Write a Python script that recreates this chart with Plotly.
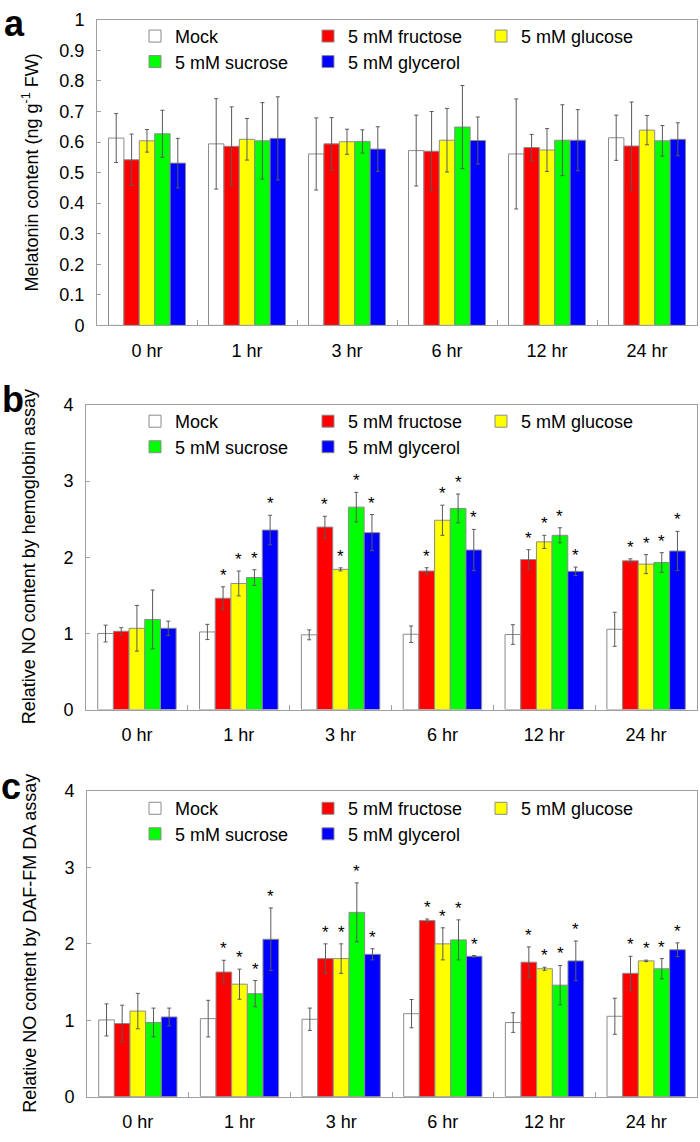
import plotly.graph_objects as go

times = ["0 hr", "1 hr", "3 hr", "6 hr", "12 hr", "24 hr"]
series = ["Mock", "5 mM fructose", "5 mM glucose", "5 mM sucrose", "5 mM glycerol"]
colors = ["#ffffff", "#ff0000", "#ffff00", "#00ff00", "#0000ff"]

# Panel a: melatonin content (ng g-1 FW)
a_mock = [0.613, 0.594, 0.561, 0.572, 0.561, 0.614]
a_fru = [0.542, 0.586, 0.594, 0.570, 0.582, 0.587]
a_glu = [0.604, 0.609, 0.601, 0.606, 0.574, 0.639]
a_suc = [0.627, 0.604, 0.602, 0.649, 0.606, 0.604]
a_gly = [0.531, 0.612, 0.577, 0.605, 0.606, 0.609]
a_mock_err = [0.080, 0.148, 0.118, 0.116, 0.180, 0.074]
a_fru_err = [0.084, 0.129, 0.086, 0.130, 0.043, 0.144]
a_glu_err = [0.037, 0.068, 0.041, 0.104, 0.070, 0.048]
a_suc_err = [0.077, 0.125, 0.038, 0.136, 0.116, 0.050]
a_gly_err = [0.081, 0.136, 0.073, 0.077, 0.100, 0.054]

# Panel b: relative NO content by hemoglobin assay
b_mock = [0.998, 1.019, 0.981, 0.989, 0.985, 1.054]
b_fru = [1.028, 1.462, 2.396, 1.819, 1.970, 1.953]
b_glu = [1.067, 1.656, 1.841, 2.486, 2.202, 1.910]
b_suc = [1.183, 1.733, 2.658, 2.641, 2.288, 1.931]
b_gly = [1.067, 2.357, 2.323, 2.095, 1.815, 2.082]
b_mock_err = [0.110, 0.100, 0.065, 0.108, 0.129, 0.224]
b_fru_err = [0.047, 0.150, 0.142, 0.043, 0.129, 0.026]
b_glu_err = [0.300, 0.163, 0.020, 0.198, 0.086, 0.125]
b_suc_err = [0.387, 0.103, 0.194, 0.189, 0.099, 0.129]
b_gly_err = [0.094, 0.194, 0.237, 0.271, 0.056, 0.258]
b_sig = [0, 1, 1, 1, 1, 1]

# Panel c: relative NO content by DAF-FM DA assay
c_mock = [1.004, 1.021, 1.013, 1.086, 0.970, 1.052]
c_fru = [0.957, 1.631, 1.807, 2.305, 1.760, 1.614]
c_glu = [1.120, 1.472, 1.807, 2.000, 1.674, 1.777]
c_suc = [0.970, 1.348, 2.412, 2.052, 1.459, 1.674]
c_gly = [1.043, 2.060, 1.863, 1.837, 1.777, 1.923]
c_mock_err = [0.210, 0.240, 0.146, 0.185, 0.129, 0.236]
c_fru_err = [0.240, 0.154, 0.193, 0.020, 0.200, 0.223]
c_glu_err = [0.232, 0.197, 0.193, 0.210, 0.020, 0.010]
c_suc_err = [0.189, 0.172, 0.386, 0.262, 0.258, 0.133]
c_gly_err = [0.116, 0.410, 0.073, 0.010, 0.260, 0.090]
c_sig = [0, 1, 1, 1, 1, 1]

panels = [
    dict(vals=[a_mock, a_fru, a_glu, a_suc, a_gly],
         errs=[a_mock_err, a_fru_err, a_glu_err, a_suc_err, a_gly_err],
         sig=None, letter="a",
         title="Melatonin content (ng g<sup>-1</sup> FW)"),
    dict(vals=[b_mock, b_fru, b_glu, b_suc, b_gly],
         errs=[b_mock_err, b_fru_err, b_glu_err, b_suc_err, b_gly_err],
         sig=b_sig, letter="b",
         title="Relative NO content by hemoglobin assay"),
    dict(vals=[c_mock, c_fru, c_glu, c_suc, c_gly],
         errs=[c_mock_err, c_fru_err, c_glu_err, c_suc_err, c_gly_err],
         sig=c_sig, letter="c",
         title="Relative NO content by DAF-FM DA assay"),
]

W, H = 700, 1142
FONT = "Liberation Sans, Arial, sans-serif"
FS = 18
# pixel layout: (left, right, top, bottom)
boxes = [(97, 697, 10, 321), (86, 697, 402, 712), (87, 697, 795, 1106)]
yranges = [[0, 1], [0, 4], [0, 4]]
dticks = [0.1, 1, 1]
letter_pos = [(14, 14), (13, 396), (11, 790)]
title_x = [31, 29, 30]
legend_rows = [36, 428, 822]
ROW_H = 26
legend_row_of_series = [0, 0, 0, 1, 1]

BARGAP = 0.23
fig = go.Figure()
annotations = []
layout = {}

for p, pan in enumerate(panels):
    sfx = "" if p == 0 else str(p + 1)
    xa, ya = "x" + sfx, "y" + sfx
    leg_names = ["legend" + ("" if p == 0 else str(2 * p + 1)), "legend" + str(2 * p + 2)]
    for s in range(len(series)):
        fig.add_trace(go.Bar(
            x=times, y=pan["vals"][s], name=series[s],
            xaxis=xa, yaxis=ya, legend=leg_names[legend_row_of_series[s]],
            marker=dict(color=colors[s], line=dict(color="#8c8c8c", width=1)),
            error_y=dict(type="data", array=pan["errs"][s], color="#5a5a5a",
                         thickness=1, width=2),
            offsetgroup=str(s),
        ))
    l, r, t, b = boxes[p]
    cat_w = (r - l) / len(times)
    bar_w = cat_w * (1 - BARGAP) / len(series)
    layout["xaxis" + sfx] = dict(
        domain=[l / W, r / W], anchor=ya, type="category",
        showline=True, mirror=True, linecolor="#a0a0a0", linewidth=1,
        ticks="inside", tickson="boundaries", ticklen=5, tickcolor="#a0a0a0",
        showgrid=False, tickfont=dict(size=FS, color="#000", family=FONT),
        ticklabelstandoff=9,
    )
    layout["yaxis" + sfx] = dict(
        domain=[1 - b / H, 1 - t / H], anchor=xa, range=yranges[p], dtick=dticks[p],
        showline=True, mirror=True, linecolor="#a0a0a0", linewidth=1,
        ticks="inside", ticklen=4, tickcolor="#a0a0a0", showgrid=False,
        zeroline=False, tickfont=dict(size=FS, color="#000", family=FONT),
        ticklabelstandoff=8,
    )
    # legends: two single-row legends per panel
    for k, ln in enumerate(leg_names):
        row_c = legend_rows[p] + k * ROW_H
        layout[ln] = dict(
            x=135 / W, xanchor="left", y=1 - (row_c - 28) / H, yanchor="top",
            orientation="h", entrywidth=128, entrywidthmode="pixels",
            bgcolor="rgba(0,0,0,0)", font=dict(size=FS, color="#000", family=FONT),
            traceorder="normal",
        )
    # panel letter
    lx, ly = letter_pos[p]
    annotations.append(dict(text="<b>" + pan["letter"] + "</b>", xref="paper", yref="paper",
                            x=lx / W, y=1 - ly / H, xanchor="center", yanchor="middle",
                            showarrow=False, font=dict(size=36, color="#000", family=FONT)))
    # y title
    annotations.append(dict(text=pan["title"], xref="paper", yref="paper",
                            x=title_x[p] / W, y=1 - (t + b) / 2 / H, textangle=-90,
                            xanchor="center", yanchor="middle", showarrow=False,
                            font=dict(size=FS, color="#000", family=FONT)))
    # significance stars
    if pan["sig"] is not None:
        for s in range(1, len(series)):
            for i, tm in enumerate(times):
                if pan["sig"][i]:
                    top = pan["vals"][s][i] + pan["errs"][s][i]
                    annotations.append(dict(
                        text="*", x=tm, y=top, xref=xa, yref=ya,
                        xshift=(s - (len(series) - 1) / 2) * bar_w,
                        yanchor="bottom", yshift=0, showarrow=False,
                        font=dict(size=17, color="#000", family=FONT)))

fig.update_layout(
    width=W, height=H, margin=dict(l=0, r=0, t=0, b=0),
    paper_bgcolor="#fff", plot_bgcolor="#fff",
    barmode="group", bargap=BARGAP, bargroupgap=0,
    annotations=annotations, font=dict(family=FONT, color="#000"),
    **layout,
)
fig.write_html("out.html", config={"displayModeBar": False},
               post_script="document.body.style.margin='0';")
